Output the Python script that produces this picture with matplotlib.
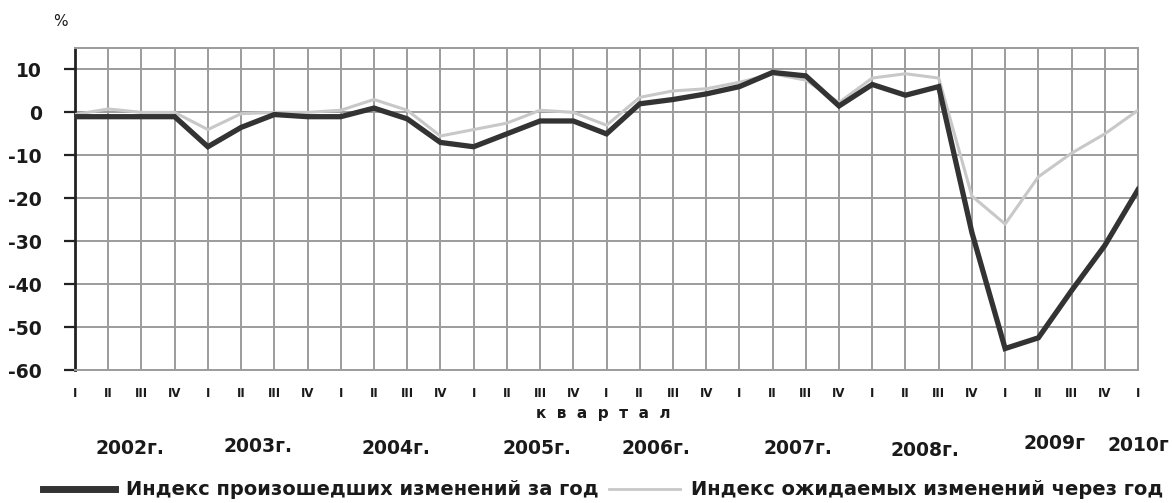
import matplotlib
matplotlib.use("Agg")
import matplotlib.pyplot as plt
import matplotlib.transforms as mtrans
import numpy as np

plt.rcParams['font.family'] = ['DejaVu Sans']
plt.rcParams['axes.unicode_minus'] = False

# quarters 2002 Q1 .. 2010 Q1
quarter_names = ['I', 'II', 'III', 'IV'] * 8 + ['I']
years = ['2002г.', '2003г.', '2004г.', '2005г.', '2006г.', '2007г.', '2008г.', '2009г', '2010г']

# Индекс произошедших изменений за год
happened = [-1, -1, -1, -1, -8, -3.5, -0.5, -1, -1, 1, -1.5, -7, -8, -5, -2, -2,
            -5, 2, 3, 4.3, 6, 9.3, 8.5, 1.5, 6.5, 4, 6, -28, -55, -52.5, -41.5, -31, -18]
# Индекс ожидаемых изменений через год
expected = [-0.5, 0.8, 0, 0, -4, -0.3, 0, 0, 0.5, 3, 0.5, -5.5, -4, -2.5, 0.5, 0,
            -3, 3.5, 5, 5.5, 7, 9, 7.5, 2.3, 8, 9, 8, -19.5, -26, -15, -9.5, -5, 0.5]

# layout of the year captions (x in quarters, y in figure fraction)
year_x = [1.66, 5.5, 9.66, 13.9, 17.5, 21.75, 25.6, 29.5, 32.0]
year_y = [0.109, 0.113, 0.109, 0.109, 0.109, 0.109, 0.105, 0.119, 0.115]

x = np.arange(len(happened))
txt = '#1a1a1a'
grid = '#9c9c9c'

fig = plt.figure(figsize=(11.72, 5.03), dpi=100)
ax = fig.add_axes([0.064, 0.2644, 0.907, 0.6402])

l2, = ax.plot(x, expected, color='#c8c8c8', lw=2.2, solid_joinstyle='miter',
              label='Индекс ожидаемых изменений через год', zorder=3)
l1, = ax.plot(x, happened, color='#333333', lw=3.8, solid_joinstyle='miter',
              label='Индекс произошедших изменений за год', zorder=4)

ax.set_xlim(0, 32)
ax.set_ylim(-60, 15)
ax.set_yticks(np.arange(-60, 11, 10))
ax.set_xticks(x)
ax.set_xticklabels(quarter_names)
ax.grid(True, color=grid, lw=1.4)
ax.set_axisbelow(True)
for s in ['top', 'right', 'bottom']:
    ax.spines[s].set_color(grid)
    ax.spines[s].set_linewidth(1.4)
ax.spines['left'].set_color('#222222')
ax.spines['left'].set_linewidth(2)

ax.tick_params(axis='y', length=8, width=1.6, color='#222222', pad=16,
               labelsize=13.5, labelcolor=txt)
for t in ax.get_yticklabels():
    t.set_fontweight('bold')
ax.tick_params(axis='x', length=0, pad=12, labelsize=8.5, labelcolor=txt)
for t in ax.get_xticklabels():
    t.set_fontweight('bold')

fig.text(60 / 1172, 1 - 22 / 503, '%', ha='center', va='center', fontsize=11,
         color=txt)

ax.text(15.9, -0.135, 'к  в  а  р  т  а  л', transform=ax.get_xaxis_transform(),
        ha='center', va='center', fontsize=11, fontweight='bold', color=txt)

tr = mtrans.blended_transform_factory(ax.transData, fig.transFigure)
for name, xx, yy in zip(years, year_x, year_y):
    ax.text(xx, yy, name, transform=tr, ha='center', va='center', fontsize=13.5,
            fontweight='bold', color=txt, clip_on=False)

leg = fig.legend(handles=[l1, l2], loc='center', bbox_to_anchor=(0.515, 0.026),
                 ncol=2, frameon=False, handlelength=3.66, handletextpad=0.6,
                 columnspacing=0.5, prop={'size': 14, 'weight': 'bold'})
for t in leg.get_texts():
    t.set_color(txt)
leg.get_lines()[0].set_linewidth(5)
leg.get_lines()[1].set_linewidth(2)

plt.savefig('out.png', dpi=100)
